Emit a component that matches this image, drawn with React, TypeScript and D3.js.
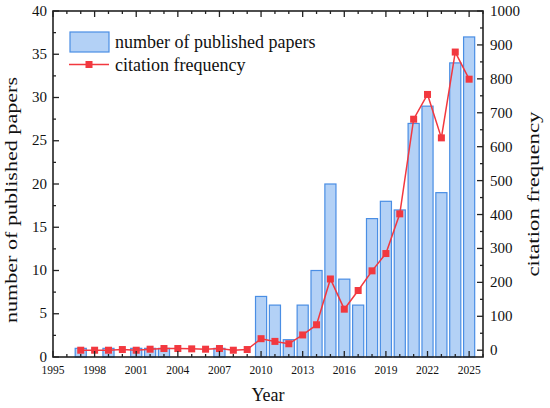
import React, { useEffect } from "react";
import * as d3 from "d3";

const years = [
  1997, 1998, 1999, 2000, 2001, 2002, 2003, 2004, 2005, 2006, 2007, 2008, 2009,
  2010, 2011, 2012, 2013, 2014, 2015, 2016, 2017, 2018, 2019, 2020, 2021, 2022,
  2023, 2024, 2025,
];
const papers = [
  1, 0, 1, 0, 1, 1, 1, 0, 0, 0, 1, 0, 0, 7, 6, 2, 6, 10, 20, 9, 6, 16, 18, 17,
  27, 29, 19, 34, 37,
];
const citations = [
  0, 0, 0, 2, 0, 3, 5, 5, 4, 3, 5, 0, 2, 34, 26, 19, 45, 75, 210, 121, 176, 234,
  285, 402, 681, 754, 626, 879, 799,
];
const xTicks = [1995, 1998, 2001, 2004, 2007, 2010, 2013, 2016, 2019, 2022, 2025];
const leftTicks = [0, 5, 10, 15, 20, 25, 30, 35, 40];
const rightTicks = [0, 100, 200, 300, 400, 500, 600, 700, 800, 900, 1000];

const W = 550;
const H = 408;
const margin = { top: 11, right: 67, bottom: 51, left: 53 };
const serif = { fontFamily: '"Liberation Serif", "DejaVu Serif", serif' };

const barFill = "#b3d1f6";
const barStroke = "#4a8ee4";
const lineColor = "#f2383f";

const App: React.FC = () => {
  useEffect(() => {
    document.body.style.margin = "0";
  }, []);

  const x0 = margin.left;
  const x1 = W - margin.right;
  const y0 = H - margin.bottom;
  const y1 = margin.top;

  const x = d3.scaleLinear().domain([1995, 2026]).range([x0, x1]);
  const yL = d3.scaleLinear().domain([0, 40]).range([y0, y1]);
  const yR = d3.scaleLinear().domain([-20, 1000]).range([y0, y1]);

  const step = x(1996) - x(1995);
  const barW = step * 0.8;

  const line = d3
    .line<number>()
    .x((_, i) => x(years[i]))
    .y((d) => yR(d));

  const minorX = d3.range(1995, 2027);
  const minorL = d3.range(0, 40.1, 2.5);
  const minorR = d3.range(0, 1001, 50);

  const major = 6;
  const minor = 3;

  return (
    <svg width={W} height={H} style={{ display: "block", ...serif }}>
      <rect width={W} height={H} fill="#fff" />

      {/* bars */}
      {papers.map((p, i) =>
        p > 0 ? (
          <rect
            key={years[i]}
            x={x(years[i]) - barW / 2}
            y={yL(p)}
            width={barW}
            height={y0 - yL(p)}
            fill={barFill}
            stroke={barStroke}
            strokeWidth={1.2}
          />
        ) : null
      )}

      {/* citation line */}
      <path d={line(citations) ?? ""} fill="none" stroke={lineColor} strokeWidth={1.5} />
      {citations.map((c, i) => (
        <rect
          key={"m" + years[i]}
          x={x(years[i]) - 3.5}
          y={yR(c) - 3.5}
          width={7}
          height={7}
          fill={lineColor}
        />
      ))}

      {/* frame + ticks */}
      <g stroke="#222" strokeWidth={1.3}>
        {minorX.map((t) => {
          const len = xTicks.includes(t) ? major : minor;
          return (
            <g key={"xt" + t}>
              <line x1={x(t)} x2={x(t)} y1={y0} y2={y0 - len} />
              <line x1={x(t)} x2={x(t)} y1={y1} y2={y1 + len} />
            </g>
          );
        })}
        {minorL.map((t) => (
          <line
            key={"lt" + t}
            x1={x0}
            x2={x0 + (t % 5 === 0 ? major : minor)}
            y1={yL(t)}
            y2={yL(t)}
          />
        ))}
        {minorR.map((t) => (
          <line
            key={"rt" + t}
            x1={x1}
            x2={x1 - (t % 100 === 0 ? major : minor)}
            y1={yR(t)}
            y2={yR(t)}
          />
        ))}
        <rect x={x0} y={y1} width={x1 - x0} height={y0 - y1} fill="none" strokeWidth={1.6} />
      </g>

      {/* tick labels */}
      <g style={{ ...serif, fontSize: 11.5 }} fill="#111" textAnchor="middle">
        {xTicks.map((t) => (
          <text key={"xl" + t} x={x(t)} y={y0 + 17}>
            {t}
          </text>
        ))}
      </g>
      <g style={{ ...serif, fontSize: 15 }} fill="#111" textAnchor="end">
        {leftTicks.map((t) => (
          <text key={"ll" + t} x={x0 - 6} y={yL(t) + 4.5}>
            {t}
          </text>
        ))}
      </g>
      <g style={{ ...serif, fontSize: 15 }} fill="#111" textAnchor="start">
        {rightTicks.map((t) => (
          <text key={"rl" + t} x={x1 + 7} y={yR(t) + 5}>
            {t}
          </text>
        ))}
      </g>

      {/* axis titles */}
      <g style={{ ...serif, fontSize: 18 }} fill="#111" textAnchor="middle">
        <text x={(x0 + x1) / 2} y={401}>
          Year
        </text>
      </g>
      <g style={{ ...serif, fontSize: 17.5 }} fill="#111" textAnchor="middle">
        <text
          transform="translate(17, 200) rotate(-90)"
          textLength={246}
          lengthAdjust="spacingAndGlyphs"
        >
          number of published papers
        </text>
        <text
          transform="translate(539, 194) rotate(-90)"
          textLength={165}
          lengthAdjust="spacingAndGlyphs"
        >
          citation frequency
        </text>
      </g>

      {/* legend */}
      <g style={{ ...serif, fontSize: 18 }} fill="#111">
        <rect x={70} y={32} width={39} height={20} fill={barFill} stroke={barStroke} strokeWidth={1.2} />
        <text x={115} y={48}>number of published papers</text>
        <line x1={69} x2={109} y1={64.5} y2={64.5} stroke={lineColor} strokeWidth={1.5} />
        <rect x={85.5} y={61} width={7} height={7} fill={lineColor} />
        <text x={115} y={71}>citation frequency</text>
      </g>
    </svg>
  );
};

export default App;
